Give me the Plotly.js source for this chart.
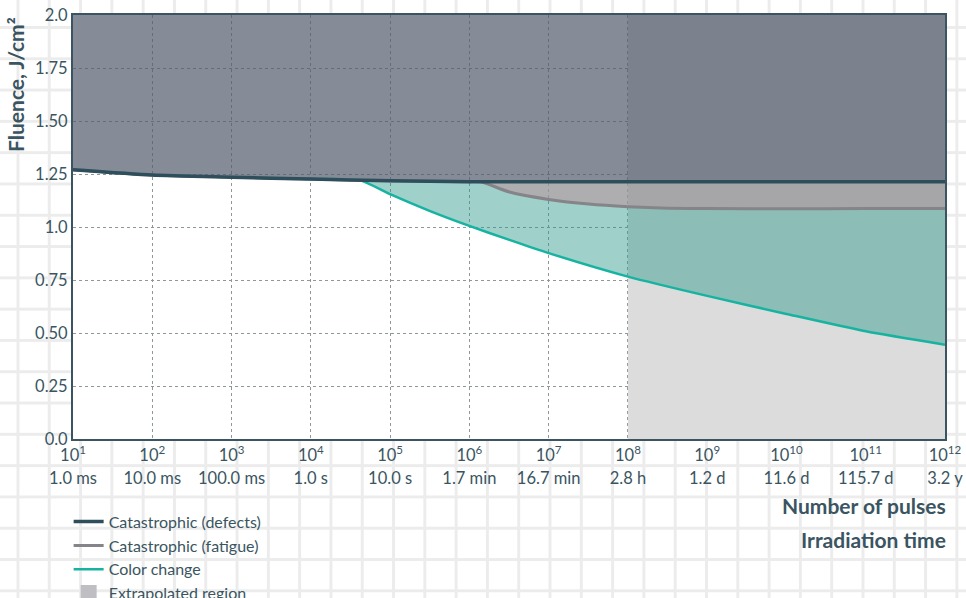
<!DOCTYPE html>
<html>
<head>
<meta charset="utf-8">
<script src="https://cdn.plot.ly/plotly-3.0.1.min.js"></script>
<style>
  html, body { margin: 0; padding: 0; }
  body {
    width: 966px; height: 598px; overflow: hidden;
    background-color: #ffffff;
    background-image:
      linear-gradient(to right, #ececec 0, #ececec 3px, transparent 3px),
      linear-gradient(to bottom, #ececec 0, #ececec 3px, transparent 3px);
    background-size: 31.3px 31.3px;
    background-position: 16.5px 26px;
  }
  #chart { width: 966px; height: 598px; }
</style>
</head>
<body>
<div id="chart"></div>
<script>
// ---- data ----
const pulseTicks = [1e1, 1e2, 1e3, 1e4, 1e5, 1e6, 1e7, 1e8, 1e9, 1e10, 1e11, 1e12];
const pulseLabels = ["10<sup>1</sup>", "10<sup>2</sup>", "10<sup>3</sup>", "10<sup>4</sup>", "10<sup>5</sup>", "10<sup>6</sup>",
                     "10<sup>7</sup>", "10<sup>8</sup>", "10<sup>9</sup>", "10<sup>10</sup>", "10<sup>11</sup>", "10<sup>12</sup>"];
const timeLabels = ["1.0 ms", "10.0 ms", "100.0 ms", "1.0 s", "10.0 s", "1.7 min",
                    "16.7 min", "2.8 h", "1.2 d", "11.6 d", "115.7 d", "3.2 y"];
const fluenceTicks = [0, 0.25, 0.5, 0.75, 1.0, 1.25, 1.5, 1.75, 2.0];
const fluenceLabels = ["0.0", "0.25", "0.50", "0.75", "1.0", "1.25", "1.50", "1.75", "2.0"];

const defectsX = [1e1, 1e2, 1e3, 1e4, 1e5, 1e6, 1e7, 1e8, 1e9, 1e10, 1e11, 1e12];
const defectsY = [1.27, 1.245, 1.235, 1.226, 1.218, 1.214, 1.213, 1.213, 1.213, 1.213, 1.213, 1.213];

const fatigueX = [1e1, 1e2, 1e3, 1e4, 1e5, 1e6, 1.4e6, 3.2e6, 1e7, 3.2e7, 1e8, 3.2e8, 1e9, 1e10, 1e11, 1e12];
const fatigueY = [1.27, 1.245, 1.235, 1.226, 1.218, 1.214, 1.213, 1.165, 1.13, 1.108, 1.096, 1.089, 1.087, 1.086, 1.087, 1.087];

const colorX = [1e1, 1e2, 1e3, 1e4, 4.2e4, 1e5, 3.2e5, 1e6, 3.2e6, 1e7, 1e8, 1e9, 1e10, 1e11, 1e12];
const colorY = [1.27, 1.245, 1.235, 1.226, 1.22, 1.155, 1.075, 1.005, 0.939, 0.877, 0.766, 0.675, 0.59, 0.508, 0.445];

const extrapStart = 1e8;
const extrapEnd = 1e12;
const fluenceMax = 2.0;

// ---- styling ----
const textColor = "#3a5561";
const font = "Lato, 'Open Sans', sans-serif";

const traces = [
  { x: [extrapStart, extrapEnd, extrapEnd, extrapStart, extrapStart], y: [0, 0, fluenceMax, fluenceMax, 0],
    mode: "lines", fill: "toself", fillcolor: "#dcdcdc", line: { width: 0 },
    showlegend: false, hoverinfo: "skip" },
  { x: colorX, y: colorY, mode: "lines", line: { width: 0, shape: "spline", smoothing: 0.6 },
    showlegend: false, hoverinfo: "skip" },
  { x: fatigueX, y: fatigueY, mode: "lines", fill: "tonexty", fillcolor: "rgba(45,152,139,0.46)",
    line: { width: 0, shape: "spline", smoothing: 0.6 }, showlegend: false, hoverinfo: "skip" },
  { x: defectsX, y: defectsY, mode: "lines", fill: "tonexty", fillcolor: "rgba(150,150,153,0.77)",
    line: { width: 0, shape: "spline", smoothing: 0.6 }, showlegend: false, hoverinfo: "skip" },
  { x: [defectsX[0], defectsX[defectsX.length - 1]], y: [fluenceMax, fluenceMax], mode: "lines", fill: "tonexty",
    fillcolor: "rgba(83,92,108,0.71)", line: { width: 0 }, showlegend: false, hoverinfo: "skip" },
  { x: colorX, y: colorY, mode: "lines", name: "Color change", legendrank: 3,
    line: { color: "#17b3a1", width: 2.5, shape: "spline", smoothing: 0.6 } },
  { x: fatigueX, y: fatigueY, mode: "lines", name: "Catastrophic (fatigue)", legendrank: 2,
    line: { color: "#858589", width: 3, shape: "spline", smoothing: 0.6 } },
  { x: defectsX, y: defectsY, mode: "lines", name: "Catastrophic (defects)", legendrank: 1,
    line: { color: "#2f4e5b", width: 3.5, shape: "spline", smoothing: 0.6 } },
  { x: [null], y: [null], mode: "markers", name: "Extrapolated region", legendrank: 4,
    marker: { symbol: "square", size: 16, color: "#bfbec3" } },
  { x: [null], y: [null], xaxis: "x2", mode: "markers", showlegend: false, hoverinfo: "skip" }
];

const layout = {
  width: 966, height: 598,
  margin: { l: 73, r: 21, t: 15, b: 159, autoexpand: false },
  paper_bgcolor: "rgba(0,0,0,0)",
  plot_bgcolor: "#ffffff",
  font: { family: font, color: textColor, size: 16 },
  showlegend: true,
  legend: {
    x: -0.005, y: -0.155, xanchor: "left", yanchor: "top", traceorder: "normal",
    bgcolor: "rgba(0,0,0,0)", font: { size: 16, color: textColor },
    tracegroupgap: 0, itemclick: false
  },
  xaxis: {
    type: "log", range: [1, 12], automargin: false,
    tickvals: pulseTicks, ticktext: pulseLabels, ticks: "",
    showgrid: true, gridcolor: "#8d979c", gridwidth: 1, griddash: "dot",
    showline: true, linecolor: "#3a5561", linewidth: 2, mirror: true,
    zeroline: false, tickfont: { size: 16.5, color: textColor }
  },
  xaxis2: {
    type: "log", range: [1, 12], overlaying: "x", side: "bottom", anchor: "y", automargin: false,
    tickvals: pulseTicks, ticktext: timeLabels, ticks: "",
    showgrid: false, showline: false, zeroline: false,
    ticklabelstandoff: 27, tickfont: { size: 16.5, color: textColor }
  },
  yaxis: {
    range: [0, 2.0], automargin: false, tickvals: fluenceTicks, ticktext: fluenceLabels, ticks: "",
    showgrid: true, gridcolor: "#8d979c", gridwidth: 1, griddash: "dot",
    showline: true, linecolor: "#3a5561", linewidth: 2, mirror: true,
    zeroline: false, tickfont: { size: 16.5, color: textColor }
  },
  annotations: [
    { text: "<b>Fluence, J/cm²</b>", xref: "paper", yref: "paper", x: -0.066, y: 1.0,
      xanchor: "center", yanchor: "top", textangle: -90, showarrow: false,
      font: { size: 21, color: textColor, family: font } },
    { text: "<b>Number of pulses</b>", xref: "paper", yref: "paper", x: 1.0035, y: -0.158,
      xanchor: "right", yanchor: "middle", showarrow: false,
      font: { size: 21, color: textColor, family: font } },
    { text: "<b>Irradiation time</b>", xref: "paper", yref: "paper", x: 1.0035, y: -0.238,
      xanchor: "right", yanchor: "middle", showarrow: false,
      font: { size: 21, color: textColor, family: font } }
  ]
};

Plotly.newPlot("chart", traces, layout, { displayModeBar: false, staticPlot: true });
</script>
</body>
</html>
